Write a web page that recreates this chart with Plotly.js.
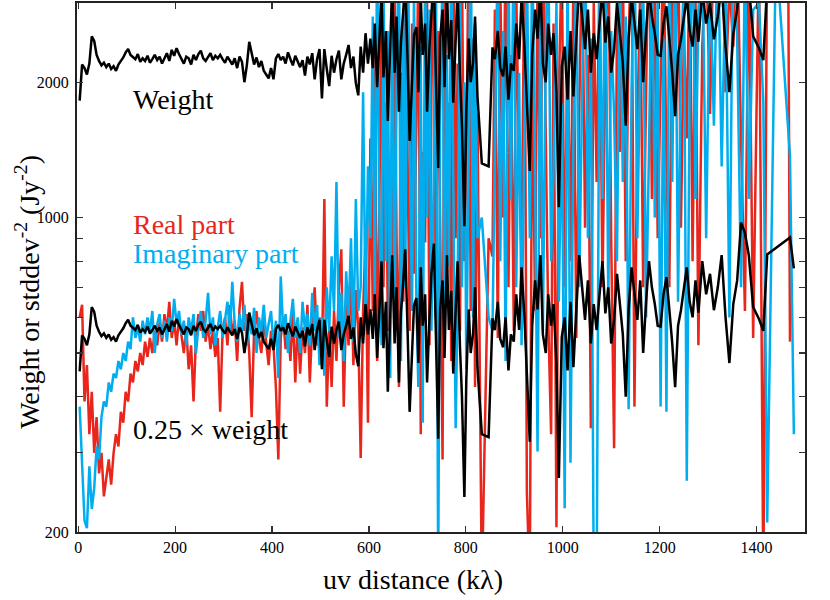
<!DOCTYPE html>
<html>
<head>
<meta charset="utf-8">
<script src="https://cdn.plot.ly/plotly-3.0.1.min.js"></script>
<style>html,body{margin:0;padding:0;background:#fff;}#chart{width:830px;height:600px;}</style>
</head>
<body>
<div id="chart"></div>
<script>
// uv distance (kλ), dense inner part
const uvInner = [3,8,13,18,23,28,33,38,43,48,
53,58,63,68,73,78,83,88,93,98,
103,108,113,118,123,128,133,138,143,148,
153,158,163,168,173,178,183,188,193,198,
203,208,213,218,223,228,233,238,243,248,
253,258,263,268,273,278,283,288,293,298,
303,308,313,318,323,328,333,338,343,348,
353,358,363,368,373,378,383,388,393,398,
403,408,413,418,423,428,433,438,443,448,
453,458,463,468,473,478,483,488,493,498,
503,508,513,518,523,528,533,538,543,548,
553,558,563,568,573,578,583,588,593,598];

const weightInner = [1820,2190,2150,2080,2200,2530,2470,2300,2230,2180,
2210,2160,2200,2140,2170,2120,2190,2230,2270,2330,
2370,2300,2280,2250,2310,2220,2260,2230,2290,2210,
2250,2300,2240,2280,2200,2270,2320,2230,2360,2290,
2380,2310,2250,2200,2280,2260,2190,2300,2240,2310,
2350,2260,2230,2280,2320,2240,2290,2260,2300,2250,
2210,2280,2240,2190,2260,2150,2280,2220,2000,2180,
2460,2300,2190,2270,2160,2230,2120,2080,2040,2150,
2030,2260,2310,2240,2280,2200,2330,2250,2180,2290,
2230,2160,2240,2070,2280,2190,2320,2030,2250,2370,
1840,2370,2140,1960,2290,2100,2250,2350,2030,2200,
2300,2420,2150,2280,1990,1870,2400,2100,2570,2200];

const realInner = [600,640,390,470,330,410,300,360,270,300,
240,265,290,255,300,330,310,370,350,410,
390,450,430,480,455,500,470,530,490,540,
500,560,520,585,530,610,560,650,540,590,
520,600,550,500,570,460,520,390,540,610,
560,620,530,580,510,560,490,540,370,560,
600,520,640,550,590,480,630,720,560,610,
500,360,560,620,540,500,590,520,470,560,
520,420,290,540,600,510,560,480,620,430,
590,450,570,500,640,430,580,700,520,600,
470,1100,380,560,420,620,480,700,850,380,
640,520,760,470,690,560,292,620,900,350];

const imagInner = [380,290,212,204,280,225,250,310,290,360,
390,380,430,410,450,440,480,460,500,480,
530,510,600,540,570,530,590,550,600,560,
620,500,580,610,540,590,530,600,560,660,
580,620,550,590,520,600,560,610,500,570,
620,540,590,680,550,600,520,570,620,540,
590,650,560,720,580,530,610,560,640,520,
590,550,630,500,600,560,640,540,580,620,
520,590,440,740,560,610,500,590,660,540,
600,500,650,560,610,520,680,560,640,470,
600,445,700,560,820,620,1200,540,680,480,
760,600,900,530,1100,620,700,1900,600,1300];

// sparser outer part
const uvOuter = [603,608,612,617,621,626,630,635,639,644,
648,653,657,662,666,671,675,680,684,689,
693,698,702,707,711,716,720,725,729,734,
738,743,747,752,756,761,765,770,774,779,
783,788,792,797,801,806,810,815,819,824,
833,847,855,860,866,871,877,882,888,893,
899,904,910,915,921,926,932,937,943,948,
954,959,965,970,976,981,987,992,998,1004,
1010,1016,1022,1028,1034,1040,1046,1052,1058,1064,
1070,1076,1082,1088,1094,1100,1106,1112,1118,1124,
1130,1136,1142,1148,1154,1160,1166,1172,1178,1184,
1190,1196,1202,1208,1214,1220,1226,1232,1238,1244,
1250,1256,1262,1268,1274,1280,1288,1296,1304,1312,
1320,1328,1336,1344,1352,1360,1368,1376,1384,1393,
1405,1414,1422,1440,1465,1469,1477];

const weightOuter = [2500,2150,2700,1950,2400,3200,2050,2600,1640,2350,
3300,2100,2800,1720,2450,2900,3400,2200,1480,2000,
2550,2650,1900,3100,2300,2700,1720,2400,3000,3500,
2100,1290,2500,2900,1950,3300,2250,2750,1800,2600,
3200,2050,1600,957,1750,2500,2000,2210,2800,1860,
1320,1300,2390,2250,2600,2150,2060,2400,1830,2200,
2120,2700,2250,3100,2400,1800,1270,2300,2900,2500,
3300,2200,2000,2700,2300,2570,1900,1055,2170,2400,
1830,2600,1860,2500,3300,2800,2370,2900,2100,2570,
2250,2700,3200,2450,2800,2100,2370,3000,2600,2200,
1600,2500,3100,2700,2370,2900,2000,2600,3200,2800,
2570,2300,2290,2700,2950,2500,2100,1680,2300,2490,
2800,3100,2600,2400,2900,2460,3200,2700,3000,2490,
2800,3300,2400,1900,2570,2900,3900,3700,3300,2530,
2380,2240,3312,null,null,3614,3084];

const realOuter = [1500,620,2400,480,900,3600,700,1800,560,1200,
700,3200,900,420,2100,650,4500,1300,560,2700,
750,1600,3800,330,1400,880,3000,520,1900,4200,
600,2600,1100,290,3400,700,1800,480,5000,900,
2200,560,3700,800,1300,4600,620,2500,420,1700,
150,900,820,2900,540,3500,1000,4400,700,2300,
560,3200,1300,800,4000,245,150,2200,620,3600,
900,4800,1500,600,330,2700,205,1900,3900,700,
2600,800,3400,540,1700,4100,950,2300,340,3000,
1200,3600,700,2200,4500,900,307,2800,1400,3800,
800,2500,4200,380,1600,3300,700,2000,5000,1100,
3500,900,2100,4400,1300,700,3000,1800,4800,950,
2600,1500,4000,800,3100,520,2400,3900,1700,4500,
2800,4600,1900,3300,2400,4200,1500,620,3800,540,
4000,150,4500,null,4500,530,null];

const imagOuter = [900,2800,650,4200,1100,520,3500,800,2600,440,
3800,600,1900,4500,480,2900,700,5000,1500,620,
3300,640,420,2400,350,4000,1000,2900,560,1300,
4800,150,1700,3600,520,2300,780,4400,1200,340,
650,3900,700,2000,460,1400,5000,600,2700,900,
1000,600,560,1500,4200,800,2600,480,3800,1100,
4600,700,2100,520,1600,3900,900,4200,1200,302,
3500,560,2400,4400,800,1300,3000,650,1800,226,
4000,285,1500,3700,700,2100,5000,900,2500,150,
150,3200,1100,4300,650,2600,1700,800,3900,1200,
2800,375,1900,4600,900,2300,3600,600,1400,4100,
1000,3000,380,2500,370,3800,1200,4500,650,2200,
3400,260,2000,4700,1100,2900,4200,900,3600,1600,
4400,1300,3500,600,4800,2500,700,3900,1100,2900,
3000,1800,210,4000,null,1370,330];

const xTicks = [0,200,400,600,800,1000,1200,1400];
const yTicks = [200,300,400,500,600,700,800,900,1000,2000,3000];
const yTickText = ['200','','','','','','','','1000','2000',''];
const weightFactor = 0.25;

const uv = uvInner.concat(uvOuter);
const weight = weightInner.concat(weightOuter);
const realPart = realInner.concat(realOuter);
const imagPart = imagInner.concat(imagOuter);
const quarterWeight = weight.map(w => (w === null ? null : w * weightFactor));

const RED = '#e8261c', BLUE = '#00aeef', BLACK = '#000000';
const FONT = 'Liberation Serif, Times New Roman, serif';

const traces = [
  {x: uv, y: realPart, mode: 'lines', connectgaps: true, line: {color: RED, width: 2.5}, name: 'Real part'},
  {x: uv, y: imagPart, mode: 'lines', connectgaps: true, line: {color: BLUE, width: 2.5}, name: 'Imaginary part'},
  {x: uv, y: weight, mode: 'lines', connectgaps: true, line: {color: BLACK, width: 2.5}, name: 'Weight'},
  {x: uv, y: quarterWeight, mode: 'lines', connectgaps: true, line: {color: BLACK, width: 2.5}, name: '0.25 × weight'}
];

const axisCommon = {
  ticks: 'inside', ticklen: 6, tickwidth: 1.2, tickcolor: '#333',
  showline: true, linecolor: '#222', linewidth: 2, mirror: 'ticks',
  showgrid: false, zeroline: false
};

const layout = {
  width: 830, height: 600,
  margin: {l: 77, r: 25, t: 3, b: 68},
  paper_bgcolor: '#fff', plot_bgcolor: '#fff',
  showlegend: false,
  font: {family: FONT, color: '#000'},
  xaxis: Object.assign({}, axisCommon, {
    range: [-2.5, 1500], tickmode: 'array', tickvals: xTicks,
    tickfont: {family: FONT, size: 16, color: '#000'}
  }),
  yaxis: Object.assign({}, axisCommon, {
    type: 'log', range: [Math.log10(200), Math.log10(3000)],
    tickmode: 'array', tickvals: yTicks, ticktext: yTickText,
    ticklabelstandoff: 3,
    tickfont: {family: FONT, size: 16, color: '#000'}
  }),
  annotations: [
    {text: 'uv distance (kλ)', x: 0.4615, xref: 'paper', y: -0.0907, yref: 'paper', xanchor: 'center', yanchor: 'middle', showarrow: false, font: {family: FONT, size: 28, color: BLACK}},
    {text: 'Weight or stddev<sup>-2</sup> (Jy<sup>-2</sup>)', x: -0.0673, xref: 'paper', y: 0.454, yref: 'paper', xanchor: 'center', yanchor: 'middle', textangle: -90, showarrow: false, font: {family: FONT, size: 28, color: BLACK}},
    {text: 'Weight', x: 108, xref: 'x', y: 0.8185, yref: 'paper', xanchor: 'left', yanchor: 'middle', showarrow: false, font: {family: FONT, size: 28, color: BLACK}},
    {text: 'Real part', x: 108, xref: 'x', y: 0.582, yref: 'paper', xanchor: 'left', yanchor: 'middle', showarrow: false, font: {family: FONT, size: 28, color: RED}},
    {text: 'Imaginary part', x: 108, xref: 'x', y: 0.527, yref: 'paper', xanchor: 'left', yanchor: 'middle', showarrow: false, font: {family: FONT, size: 28, color: BLUE}},
    {text: '0.25 × weight', x: 108, xref: 'x', y: 0.193, yref: 'paper', xanchor: 'left', yanchor: 'middle', showarrow: false, font: {family: FONT, size: 28, color: BLACK}}
  ]
};

Plotly.newPlot('chart', traces, layout, {displayModeBar: false, staticPlot: true});
</script>
</body>
</html>
